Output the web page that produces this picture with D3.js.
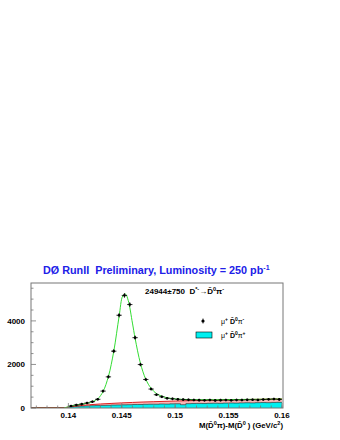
<!DOCTYPE html>
<html><head><meta charset="utf-8">
<script src="https://cdn.jsdelivr.net/npm/d3@7"></script>
<style>body{margin:0;background:#fff}svg{display:block}text{font-family:"Liberation Sans",Arial,sans-serif;white-space:pre}</style>
</head><body><svg id="c" width="340" height="440"></svg>
<script>
// ---- data ----
const binWidth = 0.0005;
const rsStart = 0.14025; // first right-sign bin centre
const rsValues = [90,140,180,230,290,400,776,1430,2610,4260,5170,4750,3230,1995,1310,870,610,515,445,420,
  400,385,375,370,360,355,365,350,360,365,355,370,365,375,380,370,390,400,410,395];
const wsStart = 0.13975; // first wrong-sign bin centre
const wsValues = [20,50,70,85,95,105,110,120,125,135,140,145,150,160,160,170,175,175,185,180,
  190,195,150,200,205,210,205,215,220,215,225,230,225,235,240,235,245,250,245,255,260];
const fitX = [0.1396,0.14025,0.14075,0.14125,0.14175,0.14225,0.14275,0.14325,0.14375,0.14425,0.14475,0.1451,0.14535,0.1456,0.146,0.14625,0.14675,0.14725,0.14775,0.14825,0.14875,0.14925,0.14975,0.1505,0.152,0.154,0.156,0.158,0.16];
const fitY = [0,95,135,175,220,290,420,760,1450,2600,4200,5150,5230,4950,3900,3200,2050,1320,900,660,540,470,430,400,385,382,390,402,415];
const bkgX = [0.1396,0.140,0.141,0.142,0.143,0.144,0.145,0.146,0.147,0.148,0.150,0.152,0.154,0.156,0.158,0.160];
const bkgY = [0,40,110,150,185,210,235,255,275,290,320,345,365,385,400,415];
const xTicks = [0.14,0.145,0.15,0.155,0.16];
const yTicks = [0,2000,4000];

// ---- layout ----
const svg = d3.select("#c");
const L=31,R=283,T=283,B=408;
const x = d3.scaleLinear([0.1365,0.1601],[L,R]);
const y = d3.scaleLinear([0,5740],[B,T]);
svg.append("rect").attr("width",340).attr("height",440).attr("fill","#fff");

svg.append("clipPath").attr("id","cp").append("rect").attr("x",L).attr("y",T).attr("width",R-L).attr("height",B-T);
const g = svg.append("g").attr("clip-path","url(#cp)");

// pink band under background fit
g.append("path").datum(bkgX.map((v,i)=>[v,bkgY[i]]))
 .attr("d",d3.area().x(d=>x(d[0])).y0(y(0)).y1(d=>y(d[1])).curve(d3.curveMonotoneX))
 .attr("fill","#f7b6b6");
// wrong sign histogram
const ws = wsValues.map((v,i)=>({x0:wsStart+i*binWidth-binWidth/2,x1:wsStart+i*binWidth+binWidth/2,v}));
const stepPts=[];
ws.forEach(d=>{stepPts.push([d.x0,d.v]);stepPts.push([d.x1,d.v]);});
g.append("path").datum(stepPts)
 .attr("d",d3.area().x(d=>x(d[0])).y0(y(0)).y1(d=>y(d[1])))
 .attr("fill","#00f0f0");
g.append("path").datum(stepPts)
 .attr("d",d3.line().x(d=>x(d[0])).y(d=>y(d[1])))
 .attr("fill","none").attr("stroke","#222").attr("stroke-width",0.6);
// background fit line
g.append("path").datum(bkgX.map((v,i)=>[v,bkgY[i]]))
 .attr("d",d3.line().x(d=>x(d[0])).y(d=>y(d[1])).curve(d3.curveMonotoneX))
 .attr("fill","none").attr("stroke","#e02020").attr("stroke-width",1);
// zero line of fit
g.append("line").attr("x1",x(0.1365)).attr("x2",x(0.1396)).attr("y1",y(0)-0.5).attr("y2",y(0)-0.5)
 .attr("stroke","#8b3a10").attr("stroke-width",1.2);
// total fit
g.append("path").datum(fitX.map((v,i)=>[v,fitY[i]]))
 .attr("d",d3.line().x(d=>x(d[0])).y(d=>y(d[1])).curve(d3.curveCatmullRom))
 .attr("fill","none").attr("stroke","#33dd33").attr("stroke-width",1);
// data points
const rs = rsValues.map((v,i)=>({c:rsStart+i*binWidth,v}));
const pts = g.append("g");
rs.forEach(d=>{
  const e=Math.sqrt(d.v);
  pts.append("line").attr("x1",x(d.c-binWidth/2)).attr("x2",x(d.c+binWidth/2)).attr("y1",y(d.v)).attr("y2",y(d.v)).attr("stroke","#000").attr("stroke-width",0.8);
  pts.append("line").attr("x1",x(d.c)).attr("x2",x(d.c)).attr("y1",y(d.v+e)-0.8).attr("y2",y(d.v-e)+0.8).attr("stroke","#000").attr("stroke-width",0.8);
  pts.append("circle").attr("cx",x(d.c)).attr("cy",y(d.v)).attr("r",1.3).attr("fill","#000");
});

// frame
svg.append("rect").attr("x",L).attr("y",T).attr("width",R-L).attr("height",B-T).attr("fill","none").attr("stroke","#777").attr("stroke-width",1);
// ticks
const ax = svg.append("g").attr("stroke","#777").attr("stroke-width",0.8);
d3.range(0,24).map(i=>0.137+i*0.001).forEach(t=>{
  if(t>0.1601) return;
  ax.append("line").attr("x1",x(t)).attr("x2",x(t)).attr("y1",B).attr("y2",B-2.5);
});
xTicks.forEach(t=>ax.append("line").attr("x1",x(t)).attr("x2",x(t)).attr("y1",B).attr("y2",B-5));
d3.range(0,12).map(i=>i*500).forEach(t=>{
  if(y(t)<T) return;
  const major = t%2000===0;
  ax.append("line").attr("x1",L).attr("x2",L+(major?5:2.5)).attr("y1",y(t)).attr("y2",y(t));
});
// tick labels
const tl = svg.append("g").attr("font-size",8).attr("font-weight","bold").attr("fill","#000");
xTicks.forEach(t=>tl.append("text").attr("x",x(t)).attr("y",418).attr("text-anchor","middle").text(String(t)));
yTicks.forEach(t=>tl.append("text").attr("x",25).attr("y",y(t)+3).attr("text-anchor","end").text(String(t)));

// axis title
const at = svg.append("text").attr("x",283).attr("y",428).attr("text-anchor","end").attr("font-size",7.8).attr("font-weight","bold");
at.append("tspan").text("M(");
at.append("tspan").text("D\u0304");
at.append("tspan").attr("dy",-3).attr("font-size",5.5).text("0");
at.append("tspan").attr("dy",3).text("\u03c0)-M(D\u0304");
at.append("tspan").attr("dy",-3).attr("font-size",5.5).text("0");
at.append("tspan").attr("dy",3).text(" ) (GeV/c");
at.append("tspan").attr("dy",-3).attr("font-size",5.5).text("2");
at.append("tspan").attr("dy",3).text(")");

// title
const tt = svg.append("text").attr("x",43).attr("y",274).attr("font-size",10.8).attr("font-weight","bold").attr("fill","#2020e8");
tt.append("tspan").text("D\u00d8 RunII\u00a0 Preliminary, Luminosity = 250 pb");
tt.append("tspan").attr("dy",-4).attr("font-size",7).text("-1");

// yield text
const yt = svg.append("text").attr("x",145).attr("y",294).attr("font-size",8).attr("font-weight","bold");
yt.append("tspan").text("24944\u00b1750\u00a0 D");
yt.append("tspan").attr("dy",-3).attr("font-size",5.5).text("*-");
yt.append("tspan").attr("dy",3).text("\u2192D\u0304");
yt.append("tspan").attr("dy",-3).attr("font-size",5.5).text("0");
yt.append("tspan").attr("dy",3).text("\u03c0");
yt.append("tspan").attr("dy",-3).attr("font-size",5.5).text("-");

// legend
svg.append("circle").attr("cx",203).attr("cy",321).attr("r",1.6).attr("fill","#000");
svg.append("line").attr("x1",203).attr("x2",203).attr("y1",318.5).attr("y2",323.5).attr("stroke","#000").attr("stroke-width",0.8);
svg.append("rect").attr("x",196).attr("y",332).attr("width",16).attr("height",6).attr("fill","#00f0f0").attr("stroke","#000").attr("stroke-width",0.6);
function legText(yy,sign){
  const t = svg.append("text").attr("x",221).attr("y",yy).attr("font-size",7).attr("font-weight","bold");
  t.append("tspan").attr("font-weight","normal").text("\u03bc");
  t.append("tspan").attr("dy",-3).attr("font-size",5).text("+");
  t.append("tspan").attr("dy",3).text(" D\u0304");
  t.append("tspan").attr("dy",-3).attr("font-size",5).text("0");
  t.append("tspan").attr("dy",3).attr("font-weight","normal").text("\u03c0");
  t.append("tspan").attr("dy",-3).attr("font-size",5).text(sign);
}
legText(324,"-");
legText(338,"+");
</script></body></html>
